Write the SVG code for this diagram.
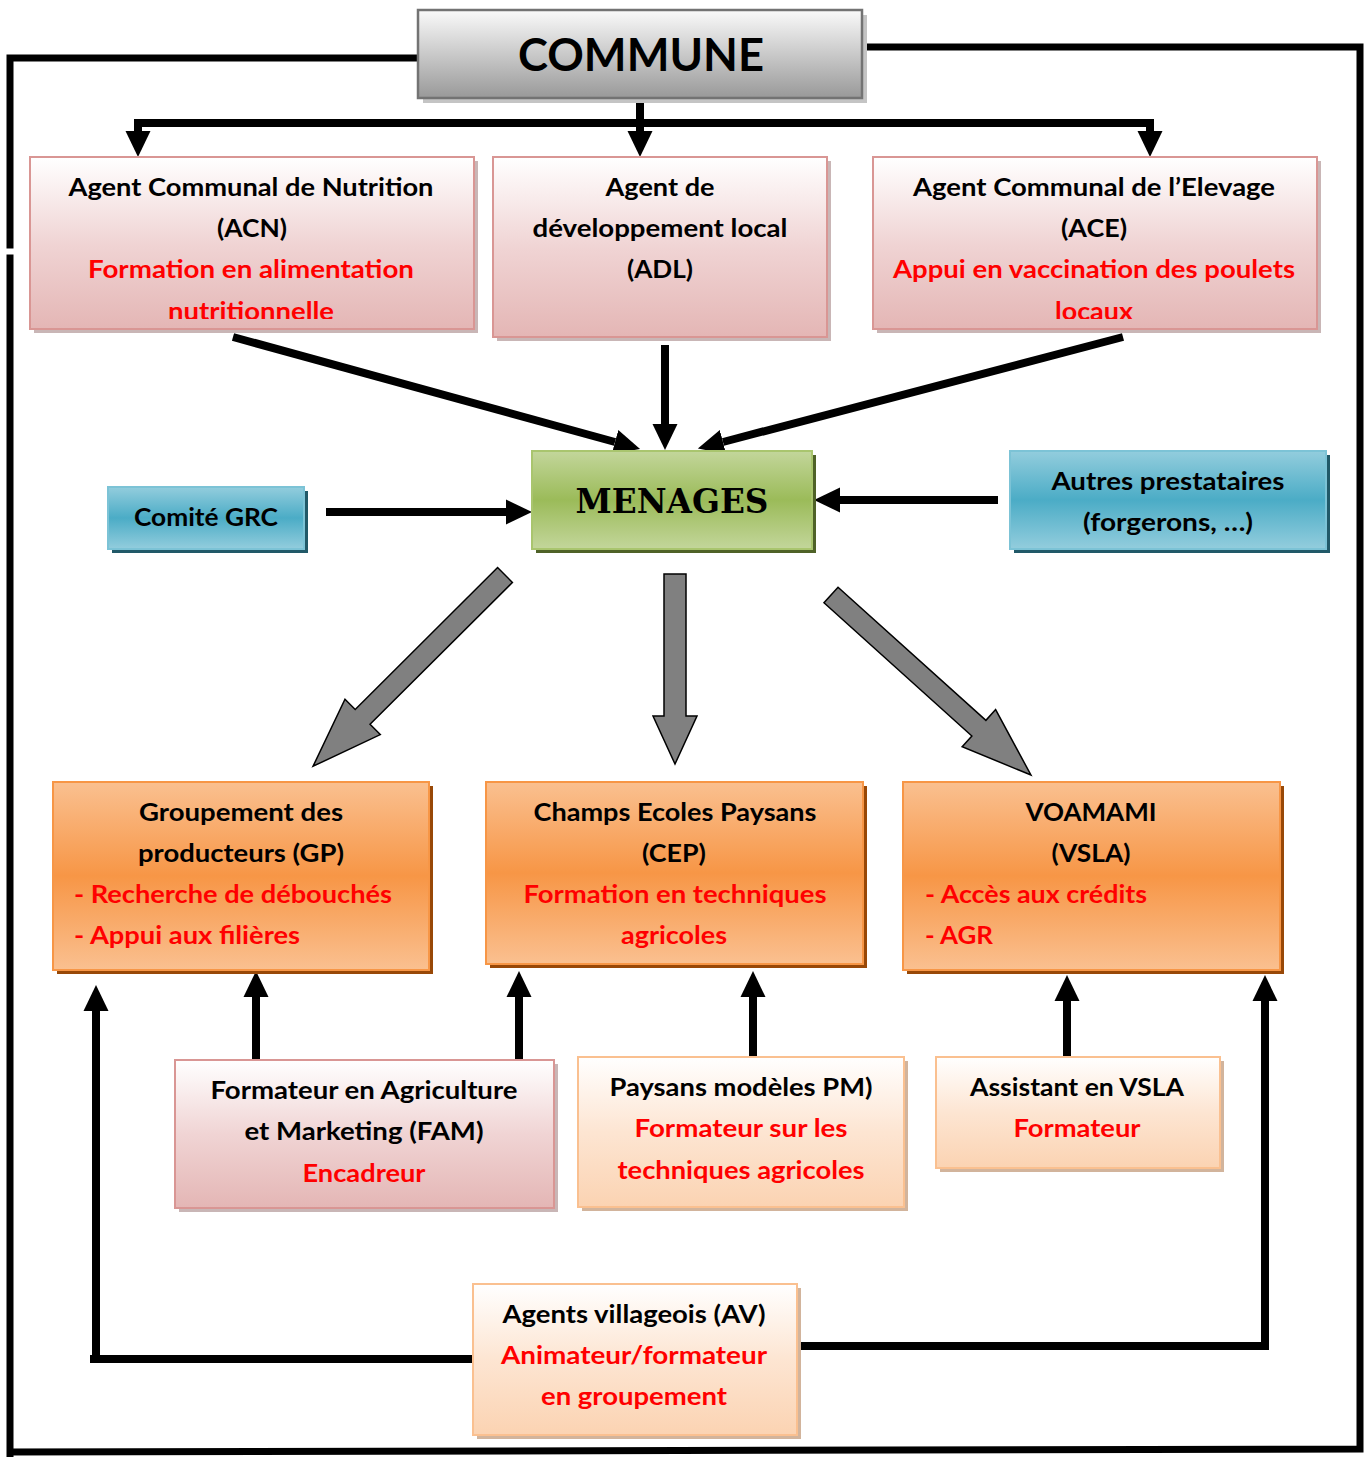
<svg xmlns="http://www.w3.org/2000/svg" width="1368" height="1457" viewBox="0 0 1368 1457">
<style>
.t{font-family:Lato,"Liberation Sans",sans-serif;font-weight:bold;font-size:25px;fill:#000;}
.r{fill:#ff0000;}
.c{text-anchor:middle;}
.big{font-size:46px;}
.ln{fill:none;stroke:#000;stroke-width:8;}
.bd{fill:none;stroke:#000;stroke-width:7;stroke-linecap:square;}
.blk{fill:#808080;stroke:#000;stroke-width:1.5;stroke-linejoin:miter;}
.pink{fill:url(#gPink);stroke:#d99694;stroke-width:2;}
.pinkS{fill:#c9b6b6;}
.or{fill:url(#gOr);stroke:#f79646;stroke-width:2;}
.orS{fill:#984807;}
.lor{fill:url(#gLor);stroke:#fac090;stroke-width:2;}
.lorS{fill:#d2b49c;}
.bl{fill:url(#gBl);stroke:#7cc3d6;stroke-width:2;}
.blS{fill:#215968;}
</style>
<defs>
<linearGradient id="gPink" x1="0" y1="0" x2="0" y2="1"><stop offset="0" stop-color="#ffffff"/><stop offset="0.5" stop-color="#f0d4d4"/><stop offset="1" stop-color="#e4b6b5"/></linearGradient>
<linearGradient id="gGray" x1="0" y1="0" x2="0" y2="1"><stop offset="0" stop-color="#fafafa"/><stop offset="1" stop-color="#999999"/></linearGradient>
<linearGradient id="gGreen" x1="0" y1="0" x2="0" y2="1"><stop offset="0" stop-color="#c3d69b"/><stop offset="0.5" stop-color="#9bbb59"/><stop offset="1" stop-color="#c3d69b"/></linearGradient>
<linearGradient id="gBl" x1="0" y1="0" x2="0" y2="1"><stop offset="0" stop-color="#93cddd"/><stop offset="0.5" stop-color="#4bacc6"/><stop offset="1" stop-color="#93cddd"/></linearGradient>
<linearGradient id="gOr" x1="0" y1="0" x2="0" y2="1"><stop offset="0" stop-color="#fac090"/><stop offset="0.5" stop-color="#f79646"/><stop offset="1" stop-color="#fac090"/></linearGradient>
<linearGradient id="gLor" x1="0" y1="0" x2="0" y2="1"><stop offset="0" stop-color="#ffffff"/><stop offset="0.5" stop-color="#fde5d2"/><stop offset="1" stop-color="#fbd3b2"/></linearGradient>
<marker id="ah" viewBox="0 -13 27 26" refX="0" refY="0" markerWidth="27" markerHeight="26" markerUnits="userSpaceOnUse" orient="auto"><path d="M0,-12.5 L26,0 L0,12.5 z" fill="#000"/></marker>
<clipPath id="clipTop"><rect x="0" y="0" width="1368" height="319"/></clipPath>
</defs>
<rect width="1368" height="1457" fill="#fff"/>

<g id="connectors">
<path class="bd" d="M418,58 H10 V245"/>
<path class="bd" d="M10,258 V1454"/>
<path class="bd" d="M862,47 H1360 V1449 L12,1452"/>
<path class="ln" d="M640,98 V131" marker-end="url(#ah)"/>
<path class="ln" d="M640,123 H138 V131" marker-end="url(#ah)"/>
<path class="ln" d="M640,123 H1150 V131" marker-end="url(#ah)"/>
<path class="ln" d="M233,337 L615,442" marker-end="url(#ah)"/>
<path class="ln" d="M665,345 V424" marker-end="url(#ah)"/>
<path class="ln" d="M1123,337 L723,442" marker-end="url(#ah)"/>
<path class="ln" d="M326,512 H506" marker-end="url(#ah)"/>
<path class="ln" d="M998,500 H840" marker-end="url(#ah)"/>
<polygon class="blk" transform="translate(505,575) rotate(135.1)" points="0,-10.5 201,-10.5 201,-25 271,0 201,25 201,10.5 0,10.5"/>
<polygon class="blk" points="664,574 686,574 686,716 697,716 675,764 653,716 664,716"/>
<polygon class="blk" transform="translate(831,595) rotate(42)" points="0,-10.5 199,-10.5 199,-25 269,0 199,25 199,10.5 0,10.5"/>
<path class="ln" d="M256,1060 V997" marker-end="url(#ah)"/>
<path class="ln" d="M519,1060 V997" marker-end="url(#ah)"/>
<path class="ln" d="M753,1057 V997" marker-end="url(#ah)"/>
<path class="ln" d="M1067,1060 V1001" marker-end="url(#ah)"/>
<path class="ln" d="M473,1359 H96 V1011" marker-end="url(#ah)"/>
<path class="ln" d="M90,1359 H100"/>
<path class="ln" d="M797,1346 H1265 V1001" marker-end="url(#ah)"/>
</g>

<g id="commune">
<rect x="423" y="15" width="444" height="88" fill="#c4c4c4"/>
<rect x="418" y="10" width="444" height="88" fill="url(#gGray)" stroke="#737373" stroke-width="2.5"/>
<text class="t c big" x="641" y="71" textLength="246" lengthAdjust="spacingAndGlyphs">COMMUNE</text>
</g>

<g id="acn">
<rect class="pinkS" x="34" y="161" width="444" height="172"/>
<rect class="pink" x="30" y="157" width="444" height="172"/>
<g clip-path="url(#clipTop)">
<text class="t c" x="251" y="196" textLength="365" lengthAdjust="spacingAndGlyphs">Agent Communal de Nutrition</text>
<text class="t c" x="252" y="237" textLength="70" lengthAdjust="spacingAndGlyphs">(ACN)</text>
<text class="t c r" x="251" y="278" textLength="326" lengthAdjust="spacingAndGlyphs">Formation en alimentation</text>
<text class="t c r" x="251" y="320" textLength="166" lengthAdjust="spacingAndGlyphs">nutritionnelle</text>
</g>
</g>

<g id="adl">
<rect class="pinkS" x="497" y="161" width="334" height="180"/>
<rect class="pink" x="493" y="157" width="334" height="180"/>
<text class="t c" x="660" y="196" textLength="109" lengthAdjust="spacingAndGlyphs">Agent de</text>
<text class="t c" x="660" y="237" textLength="255" lengthAdjust="spacingAndGlyphs">développement local</text>
<text class="t c" x="660" y="278" textLength="66" lengthAdjust="spacingAndGlyphs">(ADL)</text>
</g>

<g id="ace">
<rect class="pinkS" x="877" y="161" width="444" height="172"/>
<rect class="pink" x="873" y="157" width="444" height="172"/>
<g clip-path="url(#clipTop)">
<text class="t c" x="1094" y="196" textLength="362" lengthAdjust="spacingAndGlyphs">Agent Communal de l’Elevage</text>
<text class="t c" x="1094" y="237" textLength="66" lengthAdjust="spacingAndGlyphs">(ACE)</text>
<text class="t c r" x="1094" y="278" textLength="402" lengthAdjust="spacingAndGlyphs">Appui en vaccination des poulets</text>
<text class="t c r" x="1094" y="320" textLength="78" lengthAdjust="spacingAndGlyphs">locaux</text>
</g>
</g>

<g id="menages">
<rect x="536" y="455" width="280" height="98" fill="#4f6228"/>
<rect x="532" y="451" width="280" height="98" fill="url(#gGreen)" stroke="#a9c56e" stroke-width="2"/>
<text x="672" y="513" text-anchor="middle" font-family="'DejaVu Serif','Liberation Serif',serif" font-weight="bold" font-size="33" textLength="193" lengthAdjust="spacingAndGlyphs">MENAGES</text>
</g>

<g id="comite-grc">
<rect class="blS" x="112" y="491" width="196" height="62"/>
<rect class="bl" x="108" y="487" width="196" height="62"/>
<text class="t c" x="206" y="526" textLength="144" lengthAdjust="spacingAndGlyphs">Comité GRC</text>
</g>

<g id="autres">
<rect class="blS" x="1014" y="455" width="316" height="98"/>
<rect class="bl" x="1010" y="451" width="316" height="98"/>
<text class="t c" x="1168" y="490" textLength="233" lengthAdjust="spacingAndGlyphs">Autres prestataires</text>
<text class="t c" x="1168" y="531" textLength="170" lengthAdjust="spacingAndGlyphs">(forgerons, …)</text>
</g>

<g id="gp">
<rect class="orS" x="57" y="786" width="376" height="188"/>
<rect class="or" x="53" y="782" width="376" height="188"/>
<text class="t c" x="241" y="821" textLength="204" lengthAdjust="spacingAndGlyphs">Groupement des</text>
<text class="t c" x="241" y="862" textLength="206" lengthAdjust="spacingAndGlyphs">producteurs (GP)</text>
<text class="t r" x="74" y="903" textLength="318" lengthAdjust="spacingAndGlyphs">- Recherche de débouchés</text>
<text class="t r" x="74" y="944" textLength="226" lengthAdjust="spacingAndGlyphs">- Appui aux filières</text>
</g>

<g id="cep">
<rect class="orS" x="490" y="786" width="377" height="182"/>
<rect class="or" x="486" y="782" width="377" height="182"/>
<text class="t c" x="675" y="821" textLength="283" lengthAdjust="spacingAndGlyphs">Champs Ecoles Paysans</text>
<text class="t c" x="674" y="862" textLength="64" lengthAdjust="spacingAndGlyphs">(CEP)</text>
<text class="t c r" x="675" y="903" textLength="303" lengthAdjust="spacingAndGlyphs">Formation en techniques</text>
<text class="t c r" x="674" y="944" textLength="106" lengthAdjust="spacingAndGlyphs">agricoles</text>
</g>

<g id="vsla">
<rect class="orS" x="907" y="786" width="377" height="188"/>
<rect class="or" x="903" y="782" width="377" height="188"/>
<text class="t c" x="1091" y="821" textLength="131" lengthAdjust="spacingAndGlyphs">VOAMAMI</text>
<text class="t c" x="1091" y="862" textLength="79" lengthAdjust="spacingAndGlyphs">(VSLA)</text>
<text class="t r" x="925" y="903" textLength="222" lengthAdjust="spacingAndGlyphs">- Accès aux crédits</text>
<text class="t r" x="925" y="944" textLength="68" lengthAdjust="spacingAndGlyphs">- AGR</text>
</g>

<g id="fam">
<rect class="pinkS" x="179" y="1064" width="379" height="148"/>
<rect class="pink" x="175" y="1060" width="379" height="148"/>
<text class="t c" x="364" y="1099" textLength="307" lengthAdjust="spacingAndGlyphs">Formateur en Agriculture</text>
<text class="t c" x="364" y="1140" textLength="239" lengthAdjust="spacingAndGlyphs">et Marketing (FAM)</text>
<text class="t c r" x="364" y="1182" textLength="123" lengthAdjust="spacingAndGlyphs">Encadreur</text>
</g>

<g id="pm">
<rect class="lorS" x="582" y="1061" width="326" height="150"/>
<rect class="lor" x="578" y="1057" width="326" height="150"/>
<text class="t c" x="741" y="1096" textLength="263" lengthAdjust="spacingAndGlyphs">Paysans modèles PM)</text>
<text class="t c r" x="741" y="1137" textLength="213" lengthAdjust="spacingAndGlyphs">Formateur sur les</text>
<text class="t c r" x="741" y="1179" textLength="247" lengthAdjust="spacingAndGlyphs">techniques agricoles</text>
</g>

<g id="assistant-vsla">
<rect class="lorS" x="940" y="1061" width="284" height="111"/>
<rect class="lor" x="936" y="1057" width="284" height="111"/>
<text class="t c" x="1077" y="1096" textLength="214" lengthAdjust="spacingAndGlyphs">Assistant en VSLA</text>
<text class="t c r" x="1077" y="1137" textLength="127" lengthAdjust="spacingAndGlyphs">Formateur</text>
</g>

<g id="av">
<rect class="lorS" x="477" y="1288" width="324" height="151"/>
<rect class="lor" x="473" y="1284" width="324" height="151"/>
<text class="t c" x="634" y="1323" textLength="263" lengthAdjust="spacingAndGlyphs">Agents villageois (AV)</text>
<text class="t c r" x="634" y="1364" textLength="266" lengthAdjust="spacingAndGlyphs">Animateur/formateur</text>
<text class="t c r" x="634" y="1405" textLength="186" lengthAdjust="spacingAndGlyphs">en groupement</text>
</g>
</svg>
